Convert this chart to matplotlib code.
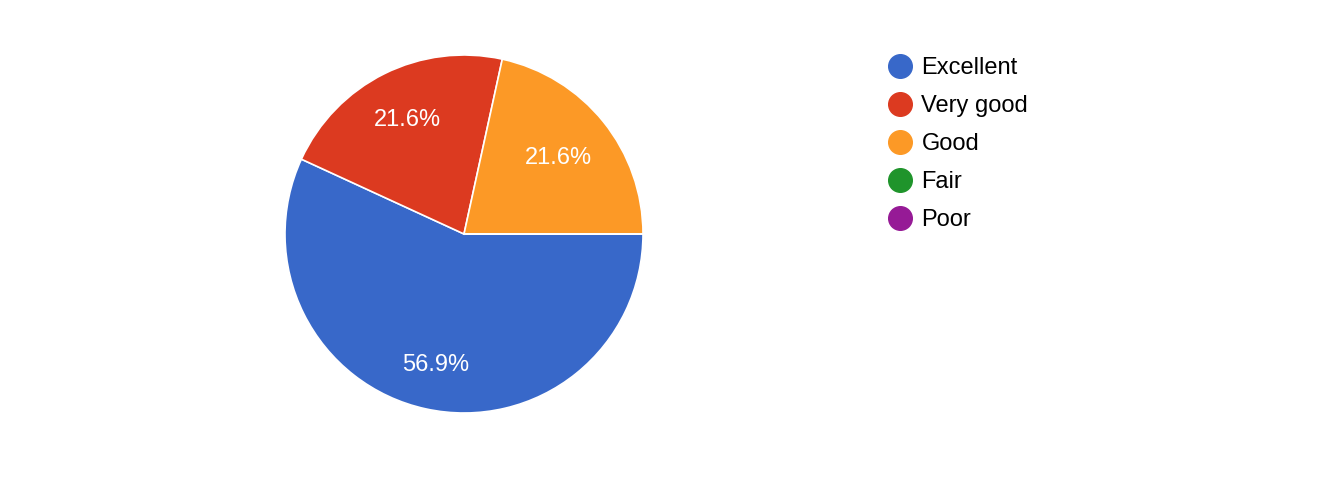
import matplotlib.pyplot as plt
from matplotlib.lines import Line2D

plt.rcParams['font.family'] = ['Liberation Sans', 'DejaVu Sans']

# survey answers (counts)
categories = ["Excellent", "Very good", "Good", "Fair", "Poor"]
counts = [29, 11, 11, 0, 0]
colors = ["#3868c9", "#dc3a20", "#fc9926", "#1f942b", "#961a96"]


def pct_label(p):
    return f"{p:.1f}%" if p > 0 else ""


fig = plt.figure(figsize=(13.22, 4.78), dpi=100)

# pie centre at (464, 234) px, radius 179 px
cx, cy, r = 464, 234, 179
W, H = 1322, 478
ax = fig.add_axes([(cx - r) / W, (H - cy - r) / H, 2 * r / W, 2 * r / H])

wedges, texts, autotexts = ax.pie(
    counts, colors=colors, startangle=0, counterclock=False,
    autopct=pct_label, pctdistance=1.0, radius=1,
    wedgeprops=dict(edgecolor="white", linewidth=1.2),
    textprops=dict(color="white", fontsize=17),
)
# label distance from centre, tweaked a bit per slice like the original
label_dist = [0.75, 0.71, 0.68, 0.7, 0.7]
for t, d in zip(autotexts, label_dist):
    x, y = t.get_position()
    t.set_position((x * d, y * d))

ax.set_xlim(-1, 1)
ax.set_ylim(-1, 1)
ax.set_aspect("equal")

handles = [Line2D([0], [0], marker="o", linestyle="none", markersize=17,
                  markerfacecolor=c, markeredgecolor=c) for c in colors]
fig.legend(handles, categories, loc="upper left",
           bbox_to_anchor=(886 / W, 1 - 57 / H), frameon=False,
           fontsize=17, handletextpad=0.3, labelspacing=0.68,
           borderaxespad=0, borderpad=0, handlelength=1.2)

fig.savefig("out.png", dpi=100)
